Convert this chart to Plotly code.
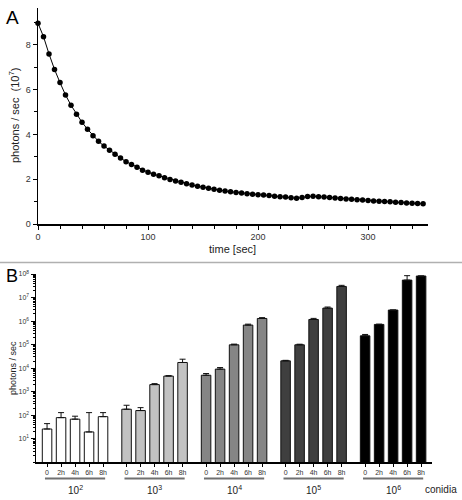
import plotly.graph_objects as go

# ---------- Panel A data ----------
time_sec = list(range(0, 355, 5))
photons_1e7 = [8.96, 8.36, 7.59, 6.90, 6.31, 5.76, 5.30, 4.90, 4.54, 4.23,
               3.94, 3.69, 3.48, 3.29, 3.11, 2.95, 2.78, 2.66, 2.53, 2.40,
               2.31, 2.22, 2.15, 2.06, 1.99, 1.92, 1.86, 1.80, 1.74, 1.69,
               1.64, 1.59, 1.55, 1.51, 1.47, 1.44, 1.41, 1.38, 1.35, 1.33,
               1.31, 1.29, 1.27, 1.24, 1.22, 1.20, 1.17, 1.15, 1.18, 1.23,
               1.24, 1.22, 1.20, 1.18, 1.16, 1.14, 1.12, 1.10, 1.08, 1.07,
               1.05, 1.03, 1.02, 1.00, 0.99, 0.97, 0.96, 0.94, 0.93, 0.92,
               0.90]

# ---------- Panel B data ----------
conidia_groups = ["10<sup>2</sup>", "10<sup>3</sup>", "10<sup>4</sup>", "10<sup>5</sup>", "10<sup>6</sup>"]
time_labels = ["0", "2h", "4h", "6h", "8h"]
bar_values = [
    [26, 79, 68, 19.5, 87],
    [180, 158, 2000, 4600, 17400],
    [5000, 9100, 98000, 675000, 1.29e6],
    [20400, 98000, 1.17e6, 3.56e6, 2.96e7],
    [236000, 720000, 2.94e6, 5.5e7, 8.2e7],
]
error_top = [
    [44, 129, 91, 129, 129],
    [265, 210, 2200, 4800, 24000],
    [5900, 10600, 105000, 740000, 1.4e6],
    [21500, 104000, 1.3e6, 3.95e6, 3.3e7],
    [270000, 740000, 2.94e6, 8.5e7, 8.2e7],
]
group_colors = ["#ffffff", "#c2c2c2", "#858585", "#3f3f3f", "#000000"]

FONT = "Liberation Sans, Arial, sans-serif"
W, H = 462, 500

def px_x(v):
    return v / W

def px_y(v):
    return 1 - v / H

fig = go.Figure()

fig.add_trace(go.Scatter(
    x=time_sec, y=photons_1e7, mode="lines+markers",
    line=dict(color="black", width=1),
    marker=dict(color="black", size=5.5),
    cliponaxis=False, xaxis="x", yaxis="y", showlegend=False))

GROUP_STEP = 5.68
tickvals, ticktext = [], []
for g, (vals, tops) in enumerate(zip(bar_values, error_top)):
    xs = [g * GROUP_STEP + j for j in range(len(vals))]
    tickvals += xs
    ticktext += time_labels
    fig.add_trace(go.Bar(
        x=xs, y=vals, width=0.68,
        marker=dict(color=group_colors[g], line=dict(color="#111111", width=1)),
        error_y=dict(type="data", symmetric=False,
                     array=[t - v for t, v in zip(tops, vals)],
                     arrayminus=[0] * len(vals),
                     color="#111111", thickness=1, width=3),
        xaxis="x2", yaxis="y2", showlegend=False))

def paper_text(text, x, y, size, angle=0, anchor="center", color="#222222"):
    return dict(text=text, x=px_x(x), y=px_y(y), xref="paper", yref="paper",
                xanchor=anchor, yanchor="middle", showarrow=False,
                textangle=angle, font=dict(size=size, color=color, family=FONT))

annotations = [
    paper_text("A", 4, 17, 19, anchor="left", color="black"),
    paper_text("B", 4, 276, 18, anchor="left", color="black"),
    paper_text("time [sec]", 233, 249, 11),
    paper_text("photons / sec  (10<sup>7</sup>)", 14, 116, 11, angle=-90),
    paper_text("photons / sec", 13, 368, 9, angle=-90),
    paper_text("conidia", 423, 489, 10, anchor="left"),
]
shapes = [
    dict(type="line", xref="paper", yref="paper", x0=0, x1=1,
         y0=px_y(262.5), y1=px_y(262.5), line=dict(color="#b0b0b0", width=1.5)),
]
for g, name in enumerate(conidia_groups):
    x0 = g * GROUP_STEP - 0.15
    x1 = g * GROUP_STEP + 4.15
    shapes.append(dict(type="line", xref="x2", yref="paper", x0=x0, x1=x1,
                       y0=px_y(478.5), y1=px_y(478.5),
                       line=dict(color="#707070", width=2)))
    annotations.append(dict(text=name, x=g * GROUP_STEP + 2, y=px_y(490),
                            xref="x2", yref="paper", showarrow=False,
                            xanchor="center", yanchor="middle",
                            font=dict(size=10, color="#222222", family=FONT)))

log_ticks = [1, 2, 3, 4, 5, 6, 7, 8]
log_text = ["10<sup>%d</sup>" % k for k in log_ticks]

fig.update_layout(
    width=W, height=H, margin=dict(l=0, r=0, t=0, b=0),
    paper_bgcolor="white", plot_bgcolor="white",
    font=dict(family=FONT, color="#333333"),
    bargap=0,
    xaxis=dict(domain=[px_x(38), px_x(427.5)], range=[0, 354], automargin=False,
               showline=True, linecolor="black", linewidth=1.5,
               ticks="outside", ticklen=4, tickwidth=1, tickcolor="black",
               tickvals=[0, 100, 200, 300], showgrid=False, zeroline=False,
               tickfont=dict(size=9, color="#333333"),
               minor=dict(tickvals=list(range(20, 354, 20)), ticks="outside",
                          ticklen=3, tickcolor="black"),
               anchor="y"),
    yaxis=dict(domain=[px_y(224), px_y(8)], range=[0, 9.64], automargin=False,
               showline=True, linecolor="black", linewidth=1.5,
               ticks="outside", ticklen=4, tickwidth=1, tickcolor="black",
               tickvals=[0, 2, 4, 6, 8], showgrid=False, zeroline=False,
               tickfont=dict(size=9, color="#333333"),
               minor=dict(tickvals=[1, 3, 5, 7, 9], ticks="outside",
                          ticklen=3, tickcolor="black"),
               anchor="x"),
    xaxis2=dict(domain=[px_x(36), px_x(432.3)], range=[-0.79, 27.52], automargin=False,
                showline=True, linecolor="black", linewidth=1.5,
                ticks="outside", ticklen=3, tickwidth=1, tickcolor="black",
                tickvals=tickvals, ticktext=ticktext, showgrid=False,
                zeroline=False, tickfont=dict(size=7, color="#333333"),
                anchor="y2"),
    yaxis2=dict(domain=[px_y(462.3), px_y(274)], type="log", range=[0, 8],
                automargin=False,
                showline=True, linecolor="black", linewidth=1.5,
                ticks="outside", ticklen=4, tickwidth=1, tickcolor="black",
                tickvals=[10 ** k for k in log_ticks], ticktext=log_text,
                showgrid=False, zeroline=False,
                tickfont=dict(size=7, color="#333333"),
                minor=dict(ticks="outside", ticklen=2, tickcolor="black",
                           dtick="D1"),
                anchor="x2"),
    annotations=annotations, shapes=shapes,
)

fig.write_html("out.html", config={"displayModeBar": False, "staticPlot": True},
               post_script="document.body.style.margin='0';document.body.style.padding='0';")
